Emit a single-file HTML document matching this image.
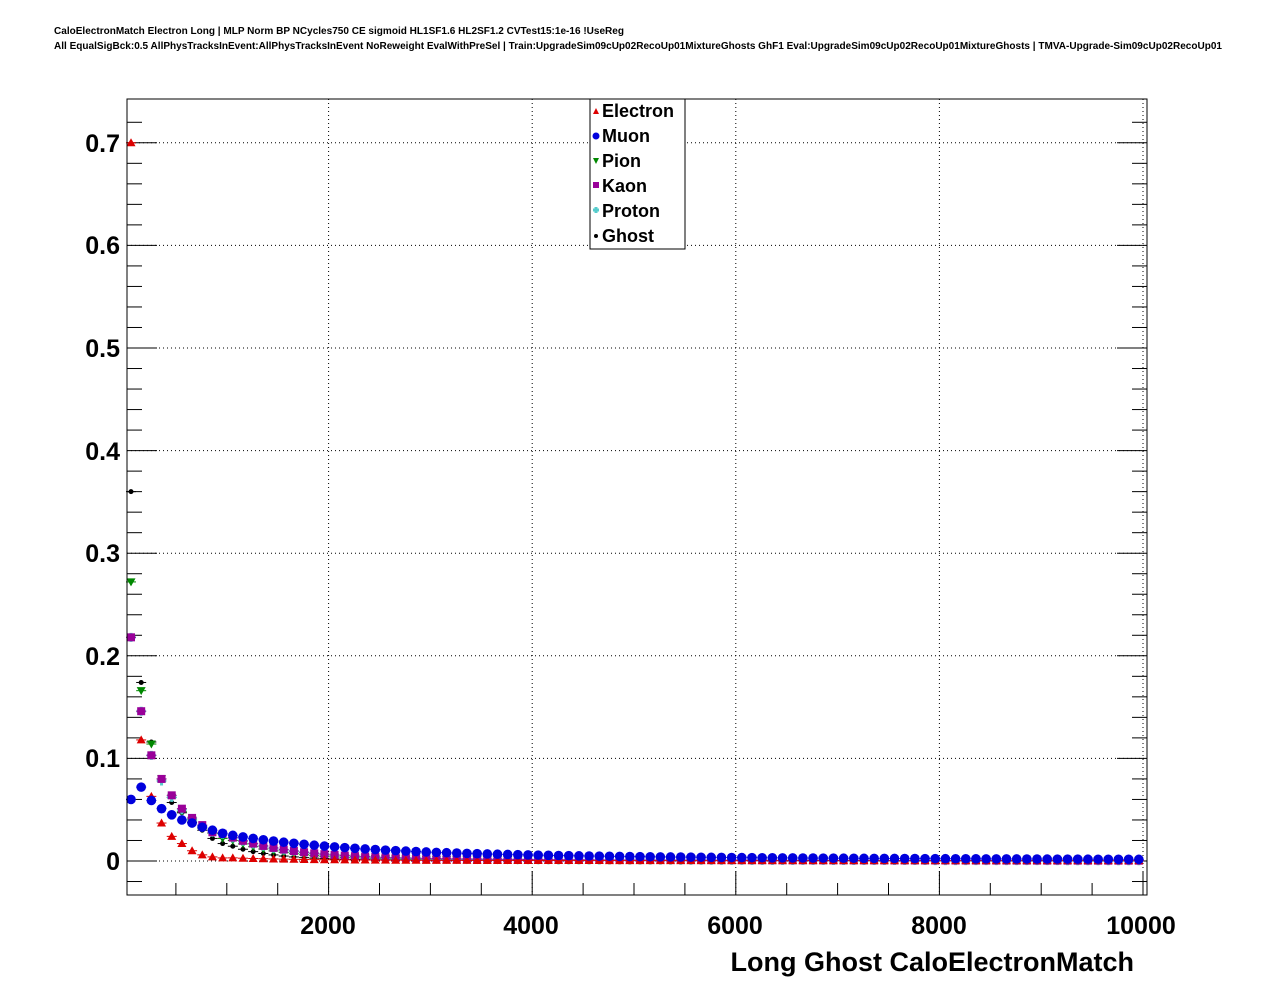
<!DOCTYPE html>
<html><head><meta charset="utf-8"><style>body{margin:0;background:#fff}svg{display:block}</style></head>
<body>
<svg id="s" width="1276" height="996" xmlns="http://www.w3.org/2000/svg" font-family="Liberation Sans, sans-serif">
<text x="54" y="34" font-size="10" font-weight="bold" textLength="570" lengthAdjust="spacingAndGlyphs">CaloElectronMatch Electron Long | MLP Norm BP NCycles750 CE sigmoid HL1SF1.6 HL2SF1.2 CVTest15:1e-16 !UseReg</text>
<text x="54" y="49" font-size="10" font-weight="bold" textLength="1168" lengthAdjust="spacingAndGlyphs">All EqualSigBck:0.5 AllPhysTracksInEvent:AllPhysTracksInEvent NoReweight EvalWithPreSel | Train:UpgradeSim09cUp02RecoUp01MixtureGhosts GhF1 Eval:UpgradeSim09cUp02RecoUp01MixtureGhosts | TMVA-Upgrade-Sim09cUp02RecoUp01</text>
<g id="g"></g>
<rect x="127" y="99" width="1020" height="796" fill="none" stroke="#000" stroke-width="1"/>
<g font-size="25" font-weight="bold" text-anchor="end">
<text x="120" y="152">0.7</text><text x="120" y="254">0.6</text><text x="120" y="357">0.5</text><text x="120" y="460">0.4</text><text x="120" y="562">0.3</text><text x="120" y="665">0.2</text><text x="120" y="767">0.1</text><text x="120" y="870">0</text>
</g>
<g font-size="25" font-weight="bold" text-anchor="middle">
<text x="328" y="934">2000</text><text x="531" y="934">4000</text><text x="735" y="934">6000</text><text x="939" y="934">8000</text><text x="1141" y="934">10000</text>
</g>
<text x="1134" y="971" font-size="27" font-weight="bold" text-anchor="end">Long Ghost CaloElectronMatch</text>
<rect x="590" y="99" width="95" height="150" fill="#fff" stroke="#000"/>
<g font-size="18" font-weight="bold">
<text x="602" y="117">Electron</text><text x="602" y="142">Muon</text><text x="602" y="167">Pion</text><text x="602" y="192">Kaon</text><text x="602" y="217">Proton</text><text x="602" y="242">Ghost</text>
</g>
<polygon points="593,114 596,108 599,114" fill="#d00"/>
<circle cx="596" cy="136" r="3.5" fill="#00d"/>
<polygon points="593,158 599,158 596,164" fill="#080"/>
<rect x="593" y="182" width="6" height="6" fill="#909"/>
<path d="M593 210h6M596 207v6" stroke="#5cc" stroke-width="3"/>
<circle cx="596" cy="236" r="2" fill="#000"/>
</svg>
<script>
const g=document.getElementById('g');let h='';
const X0=127,X1=1147,Y0=99,Y1=895,yz=861,k=1026;
const Y=v=>yz-v*k;
for(let v=0;v<=0.7001;v+=0.1){const y=Y(v);h+=`<line x1="${X0}" x2="${X1}" y1="${y}" y2="${y}" stroke="#000" stroke-dasharray="1,3"/>`;}
for(let x=2000;x<=10000;x+=2000){const px=125+x*0.1018;h+=`<line x1="${px}" x2="${px}" y1="${Y0}" y2="${Y1}" stroke="#000" stroke-dasharray="1,3"/>`;}
for(let i=-6;i<=73;i++){const v=i*0.01;const y=Y(v);if(y<Y0||y>Y1)continue;if(i%2)continue;const L=(i%10==0)?30:15;h+=`<line x1="${X0}" x2="${X0+L}" y1="${y}" y2="${y}" stroke="#000"/><line x1="${X1-L}" x2="${X1}" y1="${y}" y2="${y}" stroke="#000"/>`;}
for(let x=500;x<=10000;x+=500){const px=125+x*0.1018;const L=(x%2000==0)?24:12;h+=`<line x1="${px}" x2="${px}" y1="${Y1}" y2="${Y1-L}" stroke="#000"/>`;}
const N=100;
function ser(first,tail){return i=>i<first.length?first[i]:tail(i);}
const S=[
 ['#000',ser([0.36,0.174,0.116,0.078,0.057,0.047,0.038,0.030,0.022,0.017],i=>0.017*Math.exp(-(i-9)/4)+0.0015*Math.exp(-i/40)),'d'],
 ['#080',ser([0.272,0.166,0.114,0.080,0.062,0.048,0.040,0.032,0.027,0.022],i=>0.022*Math.exp(-(i-9)/5)+0.0025*Math.exp(-i/40)),'v'],
 ['#5cc',ser([0.218,0.146,0.103,0.078,0.062,0.050,0.041,0.034,0.028],i=>0.028*Math.exp(-(i-8)/6)+0.003*Math.exp(-i/40)),'p'],
 ['#909',ser([0.218,0.146,0.103,0.080,0.064,0.051,0.042,0.035,0.028],i=>0.028*Math.exp(-(i-8)/6)+0.0035*Math.exp(-i/40)),'s'],
 ['#d00',ser([0.70,0.118,0.063,0.037,0.024,0.017,0.010,0.006,0.004,0.003],i=>0.003*Math.exp(-(i-9)/8)+0.0004),'t'],
 ['#00d',ser([0.060,0.072,0.059,0.051,0.045,0.040,0.037,0.033,0.030,0.027,0.025],i=>0.018*Math.exp(-(i-10)/12)+0.007*Math.exp(-(i-10)/60)),'c'],
];
for(const [c,f,m] of S){for(let i=0;i<N;i++){const px=131+i*10.18;if(px>X1)break;const y=Y(f(i));
 h+=`<line x1="${px-5}" x2="${px+5}" y1="${y}" y2="${y}" stroke="${c}"/>`;
 if(m=='c')h+=`<circle cx="${px}" cy="${y}" r="4.8" fill="${c}"/>`;
 else if(m=='t')h+=`<polygon points="${px-4.5},${y+3.5} ${px},${y-4.5} ${px+4.5},${y+3.5}" fill="${c}"/>`;
 else if(m=='v')h+=`<polygon points="${px-4.5},${y-3.5} ${px+4.5},${y-3.5} ${px},${y+4.5}" fill="${c}"/>`;
 else if(m=='s')h+=`<rect x="${px-4}" y="${y-4}" width="8" height="8" fill="${c}"/>`;
 else if(m=='p')h+=`<path d="M${px-4.5} ${y}h9M${px} ${y-4.5}v9" stroke="${c}" stroke-width="3"/>`;
 else h+=`<circle cx="${px}" cy="${y}" r="2.5" fill="${c}"/>`;}}
g.innerHTML=h;
</script>
</body></html>
